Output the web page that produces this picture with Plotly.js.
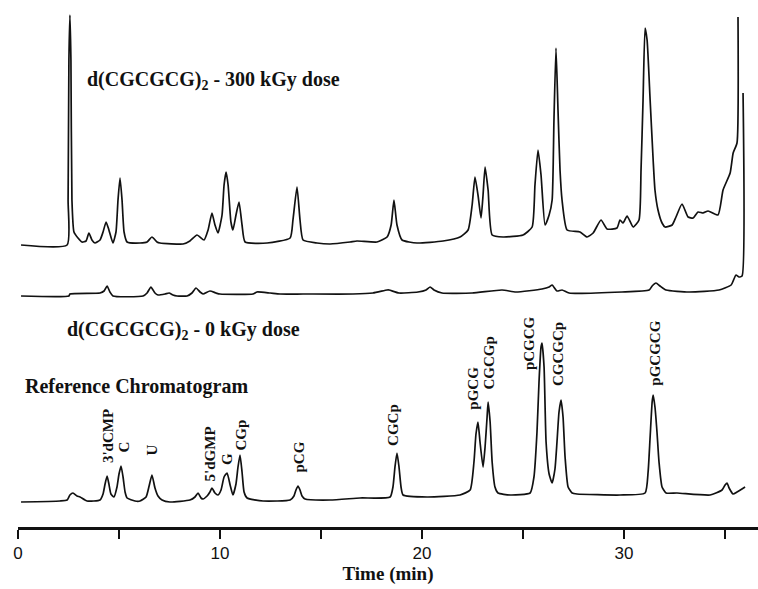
<!DOCTYPE html>
<html>
<head>
<meta charset="utf-8">
<script src="https://cdn.plot.ly/plotly-3.0.1.min.js"></script>
<style>html,body{margin:0;padding:0;background:#fff;}#chart{width:758px;height:589px;}</style>
</head>
<body>
<div id="chart"></div>
<script>
// ---- Data (time in min, detector signal in arbitrary units above each baseline) ----
var time300 = [0.15,2.43,2.48,2.52,2.57,2.62,2.67,2.77,2.97,3.17,3.37,3.51,3.66,3.81,4.06,4.21,4.36,4.50,4.70,4.85,4.95,5.05,5.15,5.25,5.40,6.04,6.39,6.63,6.88,7.03,8.17,8.51,8.86,9.21,9.41,9.60,9.75,9.90,10.10,10.20,10.30,10.40,10.54,10.64,10.79,10.94,11.09,11.24,12.33,13.47,13.61,13.81,13.96,14.11,14.80,15.45,16.44,16.78,17.77,18.27,18.47,18.61,18.76,19.01,19.75,21.04,21.88,22.28,22.48,22.62,22.77,22.92,23.02,23.12,23.27,23.47,24.01,25.00,25.45,25.59,25.74,25.89,26.09,26.29,26.44,26.53,26.63,26.73,26.83,26.93,27.18,27.82,28.17,28.47,28.86,29.16,29.65,29.80,29.95,30.15,30.45,30.74,30.84,30.94,31.04,31.14,31.29,31.44,31.53,31.68,31.88,32.03,32.38,32.57,32.87,33.17,33.42,33.66,33.91,34.16,34.65,34.90,35.25,35.40,35.59,35.64];
var signal300 = [0,0,45,185,230,185,45,13,7,3,4,12,5,2,5,13,23,15,2,13,45,67,45,13,3,2,3,8,3,2,1,4,10,5,15,32,20,12,30,60,73,60,23,15,30,43,20,3,2,7,25,58,25,5,2,1,3,4,3,8,20,45,20,5,2,4,8,15,40,68,50,27,50,78,55,10,8,10,18,60,95,70,20,30,45,125,197,135,75,45,15,13,8,12,25,16,17,25,22,29,18,25,75,145,217,205,145,85,55,35,22,18,20,28,41,28,27,33,32,34,30,55,72,92,102,228];

var time0 = [0.15,2.52,2.57,4.06,4.26,4.41,4.55,4.70,6.19,6.39,6.58,6.78,6.93,7.28,7.48,7.67,7.87,8.37,8.61,8.81,9.01,9.16,9.50,9.80,10.00,11.63,11.83,12.48,12.97,14.11,16.58,17.57,18.27,18.37,18.86,19.80,20.20,20.40,20.59,20.99,22.48,23.96,24.65,25.94,26.29,26.44,26.68,26.93,27.28,29.90,31.24,31.39,31.58,31.78,32.08,33.22,34.70,35.30,35.54,35.69,35.84,35.89];
var signal0 = [0,0,2,3,5,10,4,0,0,3,9,3,1,2,3,1,0,0,3,8,4,2,5,3,2,2,4,3,2,2,2,3,6,6,3,4,6,9,6,3,3,6,4,7,9,11,5,6,3,4,6,10,13,10,6,4,6,11,21,19,20,203];

var timeRef = [0.15,2.08,2.43,2.57,2.72,2.92,3.07,3.42,4.06,4.21,4.31,4.41,4.50,4.60,4.75,4.90,5.00,5.10,5.20,5.30,5.40,5.79,6.04,6.34,6.49,6.63,6.78,6.93,7.13,7.52,8.51,8.76,8.91,9.06,9.16,9.36,9.50,9.60,9.75,9.90,10.05,10.20,10.35,10.50,10.64,10.79,10.89,10.99,11.09,11.19,11.34,12.13,13.47,13.66,13.76,13.86,13.96,14.06,14.21,15.45,16.93,18.42,18.56,18.66,18.76,18.86,18.96,19.06,20.25,21.88,22.38,22.57,22.67,22.77,22.87,23.02,23.12,23.22,23.27,23.37,23.47,23.61,23.76,24.36,25.35,25.54,25.69,25.79,25.89,25.94,26.04,26.14,26.29,26.44,26.58,26.68,26.78,26.88,26.98,27.08,27.23,27.43,27.67,29.80,31.04,31.19,31.29,31.39,31.44,31.53,31.63,31.73,31.88,32.08,32.62,34.26,34.85,35.00,35.10,35.20,35.40,35.59,35.99];
var signalRef = [0,1,2,7,9,6,5,1,2,8,18,26,18,8,5,15,28,36,25,10,4,1,1,5,16,27,14,6,2,0,2,5,9,4,3,6,10,14,9,7,12,25,29,17,7,18,35,47,30,10,4,1,2,6,12,16,12,6,3,2,4,5,15,35,49,35,15,7,5,7,12,40,68,80,60,35,55,85,100,80,40,15,9,7,9,25,70,120,155,159,135,60,28,19,33,60,90,102,85,45,15,9,8,7,9,30,65,100,107,95,70,40,15,9,9,7,12,17,19,14,8,10,15];

// Peak labels of the reference chromatogram
var peakNames = ["3'dCMP","C","U","5'dGMP","G","CGp","pCG","CGCp","pGCG","CGCGp","pCGCG","CGCGCp","pGCGCG"];
var peakTimes = [4.46,5.20,6.63,9.50,10.35,10.99,13.86,18.56,22.48,23.27,25.30,26.73,31.49];
var labelBase = [37,47,45,19,35,49,27,54,90,110,130,114,114];

var tickValues = [0,10,20,30];
var tickLabels = ["0","10","20","30"];

var lineStyle = {color:'#111', width:1.7, shape:'spline', smoothing:0.5};

var traces = [
  {x: timeRef, y: signalRef, type:'scatter', mode:'lines', line: lineStyle, yaxis:'y', hoverinfo:'skip'},
  {x: time0, y: signal0, type:'scatter', mode:'lines', line: lineStyle, yaxis:'y2', hoverinfo:'skip'},
  {x: time300, y: signal300, type:'scatter', mode:'lines', line: lineStyle, yaxis:'y3', hoverinfo:'skip'}
];

var serif = 'Liberation Serif, Times New Roman, serif';
var annotations = [
  {xref:'paper', yref:'paper', x:0.0905, y:0.8646, xanchor:'left', yanchor:'middle', showarrow:false,
   text:'<b>d(CGCGCG)<sub>2</sub> - 300 kGy dose</b>', font:{family:serif, size:20, color:'#111'}},
  {xref:'paper', yref:'paper', x:0.0635, y:0.381, xanchor:'left', yanchor:'middle', showarrow:false,
   text:'<b>d(CGCGCG)<sub>2</sub> - 0 kGy dose</b>', font:{family:serif, size:20, color:'#111'}},
  {xref:'paper', yref:'paper', x:0.0068, y:0.2727, xanchor:'left', yanchor:'middle', showarrow:false,
   text:'<b>Reference Chromatogram</b>', font:{family:serif, size:20, color:'#111'}}
];
for (var i = 0; i < peakNames.length; i++) {
  annotations.push({xref:'x', yref:'y', x: peakTimes[i], y: labelBase[i], xanchor:'center', yanchor:'bottom',
    textangle:-90, showarrow:false, text:'<b>'+peakNames[i]+'</b>',
    font:{family:serif, size:15, color:'#111'}});
}

var hiddenY = {visible:false, fixedrange:true};
var layout = {
  width:758, height:589,
  margin:{l:18, r:0, t:10, b:62},
  paper_bgcolor:'#fff', plot_bgcolor:'#fff',
  showlegend:false,
  xaxis:{range:[0,36.63], showgrid:false, zeroline:false,
    showline:true, linecolor:'#111', linewidth:2.5,
    tickmode:'array', tickvals:tickValues, ticktext:tickLabels,
    ticks:'outside', ticklen:9, tickwidth:1.5, tickcolor:'#111',
    minor:{dtick:5, ticks:'outside', ticklen:9, tickwidth:1.5, tickcolor:'#111'},
    tickfont:{family:'Liberation Sans, Arial, sans-serif', size:17, color:'#111'},
    title:{text:'<b>Time (min)</b>', font:{family:serif, size:19, color:'#111'}, standoff:4}},
  yaxis: Object.assign({range:[-25,492]}, hiddenY),
  yaxis2: Object.assign({range:[-231,286], overlaying:'y'}, hiddenY),
  yaxis3: Object.assign({range:[-282,235], overlaying:'y'}, hiddenY),
  annotations: annotations
};

Plotly.newPlot('chart', traces, layout, {staticPlot:true, displayModeBar:false});
</script>
</body>
</html>
